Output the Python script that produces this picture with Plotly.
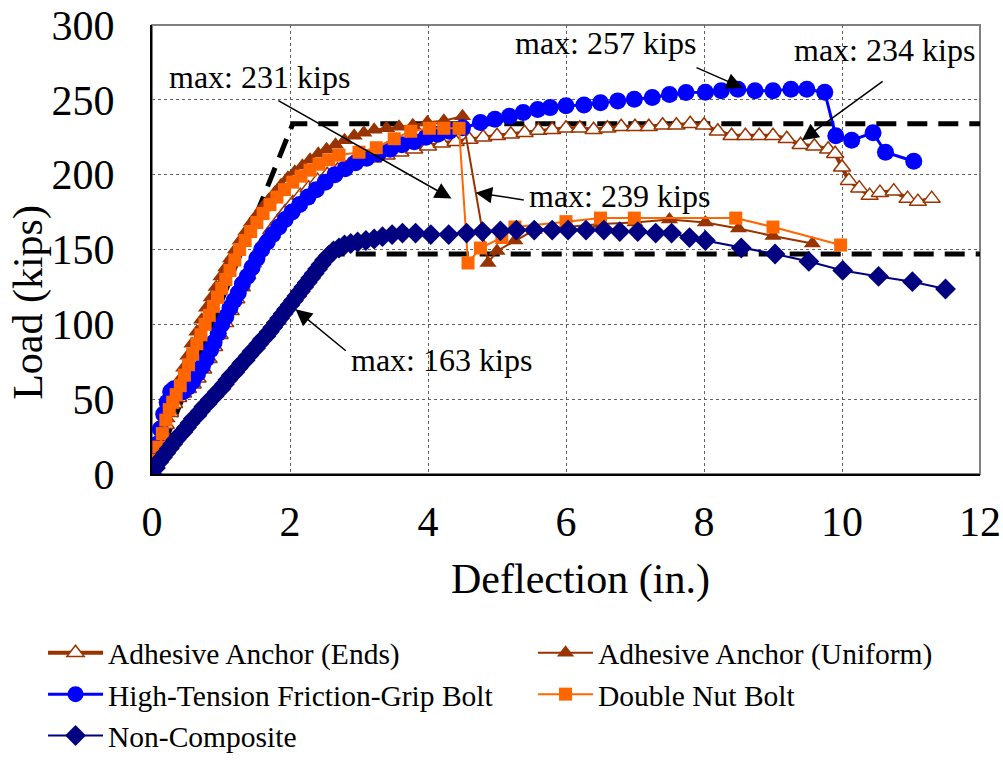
import plotly.graph_objects as go

# ---------------- data ----------------
ends_x = [0, 0.05, 0.1, 0.15, 0.2, 0.26, 0.32, 0.38, 0.45, 0.52, 0.59, 0.66, 0.74, 0.82, 0.9, 0.98,
          1.06, 1.14, 1.22, 1.30, 1.38, 1.46, 1.55, 1.64, 1.73, 1.83, 1.93, 2.04, 2.15, 2.27, 2.40,
          2.54, 2.69, 2.85, 3.02, 3.20, 3.40, 3.60, 3.80, 4.0, 4.2, 4.4, 4.6, 4.8, 5.0, 5.2, 5.4,
          5.6, 5.8, 6.0, 6.2, 6.4, 6.6, 6.8, 7.0, 7.2, 7.4, 7.6, 7.8, 8.0, 8.2, 8.4, 8.6, 8.8, 9.0,
          9.2, 9.4, 9.6, 9.8, 9.9, 10.0, 10.1, 10.25, 10.4, 10.55, 10.75, 10.95, 11.1, 11.3]
ends_y = [0, 8, 17, 25, 33, 41, 47, 51, 54, 57, 60, 64, 70, 77, 85, 93,
          101, 109, 117, 125, 133, 141, 149, 156, 163, 169, 175, 181, 186, 191, 196,
          200, 203, 206, 209, 211, 213, 215, 217, 219, 221, 222, 223.5, 225, 226, 227, 228,
          229.5, 230, 231, 231, 230, 231, 232, 232, 232, 233, 233, 234, 233, 229, 226, 226, 226, 226,
          224, 220, 219, 217, 214, 205, 196, 191, 186, 188, 189, 184, 182, 184]

unif_x = [0, 0.05, 0.1, 0.16, 0.22, 0.28, 0.34, 0.40, 0.46, 0.52, 0.58, 0.65, 0.72, 0.79, 0.86, 0.93,
          1.00, 1.07, 1.14, 1.21, 1.28, 1.36, 1.44, 1.52, 1.60, 1.69, 1.78, 1.87, 1.97, 2.07, 2.18,
          2.29, 2.41, 2.53, 2.66, 2.79, 2.93, 3.07, 3.22, 3.40, 3.58, 3.78, 3.99, 4.23, 4.50,
          4.87, 5.0, 5.26, 5.54, 6.0, 6.5, 7.0, 7.5, 8.02, 8.5, 9.0, 9.57]
unif_y = [0, 9, 18, 28, 37, 46, 55, 63, 71, 79, 87, 95, 103, 111, 118, 125,
          132, 138, 144, 150, 156, 162, 168, 173, 178, 183, 188, 193, 198, 202, 206,
          210, 214, 217, 220, 223, 226, 228, 230, 231, 232, 233, 235, 236, 239,
          141, 149, 156, 163, 165, 167, 168, 170, 168, 164, 159, 154]

htfg_x = [0, 0.04, 0.08, 0.12, 0.17, 0.22, 0.27, 0.32, 0.38, 0.45, 0.52, 0.59, 0.66, 0.73, 0.79,
          0.85, 0.90, 0.96, 1.01, 1.07, 1.13, 1.19, 1.25, 1.31, 1.38, 1.45, 1.52, 1.59, 1.67, 1.75,
          1.84, 1.93, 2.03, 2.14, 2.26, 2.38, 2.51, 2.65, 2.80, 2.95, 3.11, 3.28, 3.45, 3.62, 3.80,
          3.97, 4.14, 4.31, 4.50, 4.76, 4.97, 5.18, 5.38, 5.59, 5.77, 6.0, 6.26,
          6.50, 6.75, 6.99, 7.25, 7.50, 7.74, 8.02, 8.25, 8.49, 8.74, 9.0, 9.26, 9.49, 9.75,
          9.91, 10.14, 10.45, 10.63, 11.04]
htfg_y = [0, 10, 20, 30, 40, 48, 55, 57, 54, 55, 58, 62, 67, 72, 77,
          83, 88, 94, 100, 105, 111, 116, 121, 127, 132, 138, 144, 150, 155, 160,
          165, 170, 175, 180, 185, 190, 195, 200, 204, 208, 211, 214, 217, 220, 222,
          225, 227, 229, 231.4, 234.8, 237, 239, 241.5, 243.5, 244.8, 246, 246.5,
          248, 249.3, 250.4, 251.6, 253.5, 254.9, 255, 256, 257, 256, 256, 257, 257, 255,
          226, 223, 228, 215, 209]

dnb_x = [0, 0.05, 0.10, 0.15, 0.20, 0.25, 0.30, 0.35, 0.41, 0.47, 0.53, 0.59, 0.65, 0.71, 0.77,
         0.83, 0.89, 0.95, 1.01, 1.07, 1.13, 1.20, 1.27, 1.35, 1.43, 1.52, 1.61, 1.71, 1.81,
         1.92, 2.04, 2.16, 2.29, 2.42, 2.56, 2.71, 3.0, 3.25, 3.51, 3.75, 4.02, 4.23, 4.45,
         4.58, 4.76, 5.07, 5.26, 6.0, 6.5, 6.99, 8.46, 9.0, 9.98]
dnb_y = [0, 9, 18, 27, 36, 43, 48, 53, 59, 66, 73, 80, 87, 93, 100,
         106, 112, 118, 124, 130, 136, 143, 150, 156, 162, 168, 174, 180, 185,
         190, 195, 199, 203, 207, 210, 213, 215, 218, 224, 229, 231, 231, 231,
         141, 151, 158, 165, 168.6, 171, 171, 171, 165, 153]

nc_x = [0, 0.05, 0.1, 0.15, 0.2, 0.25, 0.3, 0.35, 0.4, 0.45, 0.5, 0.55, 0.6, 0.65, 0.7, 0.75,
        0.8, 0.85, 0.9, 0.95, 1.0, 1.05, 1.1, 1.15, 1.2, 1.25, 1.3, 1.35, 1.4, 1.45, 1.5, 1.55,
        1.6, 1.65, 1.7, 1.75, 1.8, 1.85, 1.9, 1.95, 2.0, 2.05, 2.1, 2.15, 2.2, 2.25, 2.3, 2.35,
        2.4, 2.45, 2.5, 2.56, 2.63, 2.71, 2.79, 2.88, 2.98, 3.1, 3.22, 3.34, 3.48, 3.63, 3.82,
        4.04, 4.3, 4.56, 4.79, 5.05, 5.28, 5.54, 5.8, 6.03, 6.29, 6.55, 6.78, 7.04, 7.3, 7.53,
        7.79, 8.02, 8.54, 9.03, 9.52, 10.01, 10.53, 11.02, 11.5]
nc_y = [0, 4, 8, 11, 14, 17, 20, 23, 26, 28, 31, 34, 37, 39, 42, 45,
        47, 50, 52, 55, 57, 60, 63, 66, 68, 71, 74, 76, 79, 82, 84, 87,
        90, 92, 95, 98, 101, 104, 107, 110, 113, 116, 119, 122, 125, 128, 131, 134,
        137, 140, 143, 146, 149, 151, 153, 154, 155, 156, 157, 158.6, 160, 161, 161,
        160, 160, 161, 162, 162.5, 163, 163, 163, 163, 163, 163, 162, 162, 161, 161,
        158, 156, 151, 147, 142, 136, 132, 128.5, 123.6]

# idealized bilinear (dashed) reference lines
bil1_x = [0, 2.04, 12]
bil1_y = [0, 234, 234]
bil2_x = [0, 2.53, 12]
bil2_y = [0, 147, 147]

names = ["Adhesive Anchor (Ends)", "Adhesive Anchor (Uniform)",
         "High-Tension Friction-Grip Bolt", "Double Nut Bolt", "Non-Composite"]

# annotations: text, text position (x, y), arrow tail (x, y), arrow tip (x, y)
ann_text = ["max: 257 kips", "max: 234 kips", "max: 231 kips", "max: 239 kips", "max: 163 kips"]
ann_pos = [(6.57, 288), (10.62, 283), (1.56, 265), (6.77, 186), (4.19, 76)]
arrow_tail = [(7.87, 272), (10.61, 263), (1.81, 250), (5.41, 183), (2.83, 81.5)]
arrow_tip = [(8.56, 258), (9.42, 223), (4.34, 184), (4.69, 188), (2.08, 110)]

BROWN = "#993300"
BLUE = "#0000FF"
ORANGE = "#FF6600"
NAVY = "#000080"
FONT = "Liberation Serif"

fig = go.Figure()

for bx, by in [(bil1_x, bil1_y), (bil2_x, bil2_y)]:
    fig.add_trace(go.Scatter(x=bx, y=by, mode="lines", showlegend=False, hoverinfo="skip",
                             line=dict(color="black", width=5, dash="20px,11px")))

fig.add_trace(go.Scatter(x=ends_x, y=ends_y, name=names[0], mode="lines+markers",
                         line=dict(color=BROWN, width=4),
                         marker=dict(symbol="triangle-up", size=15, color="white",
                                     line=dict(color=BROWN, width=1.5))))
fig.add_trace(go.Scatter(x=unif_x, y=unif_y, name=names[1], mode="lines+markers",
                         line=dict(color=BROWN, width=2),
                         marker=dict(symbol="triangle-up", size=15, color=BROWN)))
fig.add_trace(go.Scatter(x=htfg_x, y=htfg_y, name=names[2], mode="lines+markers",
                         line=dict(color=BLUE, width=3),
                         marker=dict(symbol="circle", size=17, color=BLUE)))
fig.add_trace(go.Scatter(x=dnb_x, y=dnb_y, name=names[3], mode="lines+markers",
                         line=dict(color=ORANGE, width=2),
                         marker=dict(symbol="square", size=13, color=ORANGE)))
fig.add_trace(go.Scatter(x=nc_x, y=nc_y, name=names[4], mode="lines+markers",
                         line=dict(color=NAVY, width=2),
                         marker=dict(symbol="diamond", size=16, color=NAVY)))

annotations = []
for t, p, a, b in zip(ann_text, ann_pos, arrow_tail, arrow_tip):
    annotations.append(dict(x=p[0], y=p[1], xref="x", yref="y", text=t, showarrow=False,
                            xanchor="center", yanchor="middle",
                            font=dict(family=FONT, size=32, color="black")))
    annotations.append(dict(x=b[0], y=b[1], xref="x", yref="y", ax=a[0], ay=a[1],
                            axref="x", ayref="y", text="", showarrow=True,
                            arrowhead=2, arrowsize=2.2, arrowwidth=1.5, arrowcolor="black"))

# axis titles
annotations.append(dict(x=-0.15, y=0.383, xref="paper", yref="paper", text="Load (kips)",
                        textangle=-90, showarrow=False, xanchor="center", yanchor="middle",
                        font=dict(family=FONT, size=42, color="black")))
annotations.append(dict(x=0.517, y=-0.236, xref="paper", yref="paper", text="Deflection (in.)",
                        showarrow=False, xanchor="center", yanchor="middle",
                        font=dict(family=FONT, size=42, color="black")))

fig.update_layout(
    width=1003, height=761,
    margin=dict(l=152, r=23, t=25, b=287, autoexpand=False),
    paper_bgcolor="white", plot_bgcolor="white",
    font=dict(family=FONT, color="black"),
    annotations=annotations,
    shapes=[dict(type="rect", xref="paper", yref="paper", x0=0, x1=1, y0=0, y1=1,
                 line=dict(color="#808080", width=2), layer="between")],
    legend=dict(orientation="h", x=-0.1316, y=-0.341, xanchor="left", yanchor="top",
                font=dict(family=FONT, size=29.5, color="black"),
                entrywidth=420, itemwidth=55, bgcolor="rgba(0,0,0,0)"),
    showlegend=True,
)
fig.update_xaxes(range=[0, 12], dtick=2, showgrid=True, gridcolor="#606060", griddash="dot",
                 gridwidth=1, zeroline=False, showline=True, linecolor="black", linewidth=2,
                 ticks="", ticklabelstandoff=10,
                 tickfont=dict(family=FONT, size=42, color="black"))
fig.update_yaxes(range=[0, 300], dtick=50, showgrid=True, gridcolor="#606060", griddash="dot",
                 gridwidth=1, zeroline=False, showline=True, linecolor="black", linewidth=2,
                 ticks="", ticklabelstandoff=27,
                 tickfont=dict(family=FONT, size=42, color="black"))

fig.write_html("out.html", config={"displayModeBar": False},
               post_script="document.body.style.margin='0px';")
